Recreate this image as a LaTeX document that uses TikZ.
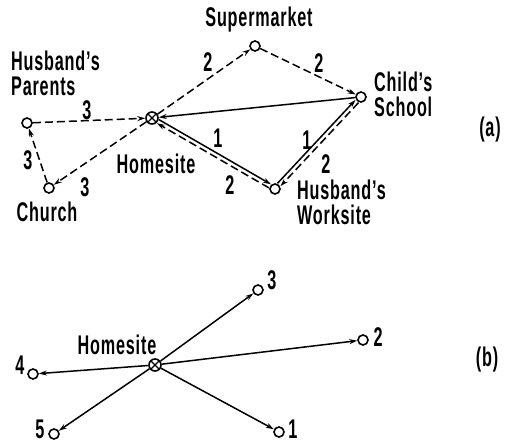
\documentclass[tikz,border=0pt]{standalone}
\usepackage{fontspec}
\setmainfont{Liberation Sans}[FakeStretch=0.6, LetterSpace=3]
\usetikzlibrary{arrows.meta}
\begin{document}
\begin{tikzpicture}[x=1pt,y=-1pt,
  font=\fontsize{27}{25}\selectfont\bfseries,
  pt/.style={circle,draw,line width=1.6pt,minimum size=10pt,inner sep=0pt,fill=white},
  home/.style={pt,minimum size=12pt,path picture={\draw[line width=1.2pt]
      (path picture bounding box.north west)--(path picture bounding box.south east)
      (path picture bounding box.north east)--(path picture bounding box.south west);}},
  link/.style={line width=1.5pt,-{Stealth[length=8pt,width=5pt]}},
  dlink/.style={link,dash pattern=on 8pt off 4pt},
  txt/.style={inner sep=0pt,align=left},
  num/.style={inner sep=0pt}]
\useasboundingbox (0,0) rectangle (506,444);

% ---------- (a) ----------
\node[home] (h) at (152,118) {};
\node[pt] (sm) at (255,46) {};
\node[pt] (cs) at (361,97) {};
\node[pt] (ws) at (275,189) {};
\node[pt] (hp) at (27,123) {};
\node[pt] (ch) at (49,188) {};

\node[txt] (tsm) at (259,20) {Supermarket};
\node[txt,anchor=west] (thp) at (11,73) {Husband's\\Parents};
\node[txt,anchor=west] (tcs) at (374,94) {Child's\\School};
\node[txt,anchor=west] (tws) at (297,202) {Husband's\\Worksite};
\node[txt] (th) at (156,164) {Homesite};
\node[txt] (tch) at (47,212) {Church};
\node[txt] (ta) at (490,130) {(a)};

\draw[dlink] (h) -- (sm);
\draw[dlink] (sm) -- (cs);
\draw[link] (cs) -- (h);
\draw[link,transform canvas={xshift=1pt,yshift=1.8pt}] (h) -- (ws);
\draw[dlink,transform canvas={xshift=-1pt,yshift=-1.8pt}] (ws) -- (h);
\draw[link,transform canvas={xshift=-1.5pt,yshift=1.4pt}] (ws) -- (cs);
\draw[dlink,transform canvas={xshift=1.5pt,yshift=-1.4pt}] (cs) -- (ws);
\draw[dlink] (hp) -- (h);
\draw[dlink] (h) -- (ch);
\draw[dlink] (ch) -- (hp);

\node[num] (n1) at (208,62) {2};
\node[num] (n2) at (319,63) {2};
\node[num] (n3) at (87,110) {3};
\node[num] (n4) at (28,160) {3};
\node[num] (n5) at (85,187) {3};
\node[num] (n6) at (218,138) {1};
\node[num] (n7) at (230,185) {2};
\node[num] (n8) at (307,140) {1};
\node[num] (n9) at (326,164) {2};

% ---------- (b) ----------
\node[home] (hb) at (155,365) {};
\node[pt] (b3) at (258,290) {};
\node[pt] (b2) at (363,340) {};
\node[pt] (b1) at (279,432) {};
\node[pt] (b4) at (33,374) {};
\node[pt] (b5) at (54,434) {};

\draw[link] (hb) -- (b3);
\draw[link] (hb) -- (b2);
\draw[link] (hb) -- (b1);
\draw[link] (hb) -- (b4);
\draw[link] (hb) -- (b5);

\node[txt] (thb) at (117,345) {Homesite};
\node[num] (l3) at (272,280) {3};
\node[num] (l2) at (378,337) {2};
\node[num] (l1) at (293,429) {1};
\node[num] (l4) at (20,365) {4};
\node[num] (l5) at (40,429) {5};
\node[txt] (tb) at (487,360) {(b)};
\end{tikzpicture}
\end{document}
